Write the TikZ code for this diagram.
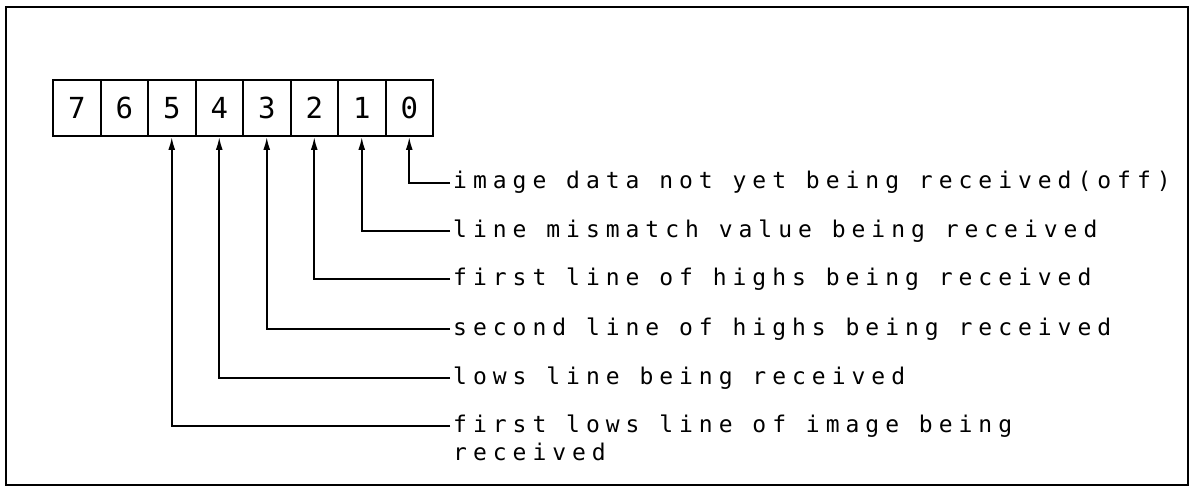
\documentclass[tikz,border=0pt]{standalone}
\usepackage{fontspec}
\usetikzlibrary{arrows.meta}
\newfontfamily\lblfont[LetterSpace=26]{DejaVu Sans Mono}
\newfontfamily\digfont{DejaVu Sans Mono}
\begin{document}
\begin{tikzpicture}[x=1pt,y=-1pt,
  bitbox/.style={draw,line width=2pt,minimum width=47.5pt,minimum height=56pt,inner sep=0pt,font=\digfont\fontsize{29}{29}\selectfont},
  lbl/.style={inner sep=0pt,anchor=base west,font=\lblfont\fontsize{23}{28}\selectfont,align=left},
  conn/.style={line width=1.8pt,-{Latex[length=13pt,width=7pt]}},
  frame/.style={line width=2pt}]
\useasboundingbox (0,0) rectangle (1194,489);
\draw[frame] (6,7) rectangle (1188,485);
% bit boxes
\foreach \i in {7,...,0}{
  \node[bitbox] (b\i) at ({53+47.5*(7-\i)+23.75},108) {\i};
}
% label ends and labels
\coordinate (e0) at (450,183);
\coordinate (e1) at (450,231);
\coordinate (e2) at (450,279);
\coordinate (e3) at (450,329);
\coordinate (e4) at (450,378);
\coordinate (e5) at (450,426);
\node[lbl] (t0) at (453,189) {image data not yet being received(off)};
\node[lbl] (t1) at (453,237) {line mismatch value being received};
\node[lbl] (t2) at (453,285) {first line of highs being received};
\node[lbl] (t3) at (453,335) {second line of highs being received};
\node[lbl] (t4) at (453,384) {lows line being received};
\node[lbl] (t5) at (453,432) {first lows line of image being};
\node[lbl] (t5b) at (453,460) {received};
% connectors
\foreach \i in {0,...,5}{
  \draw[conn] (e\i) -| (b\i.south);
}
\end{tikzpicture}
\end{document}
